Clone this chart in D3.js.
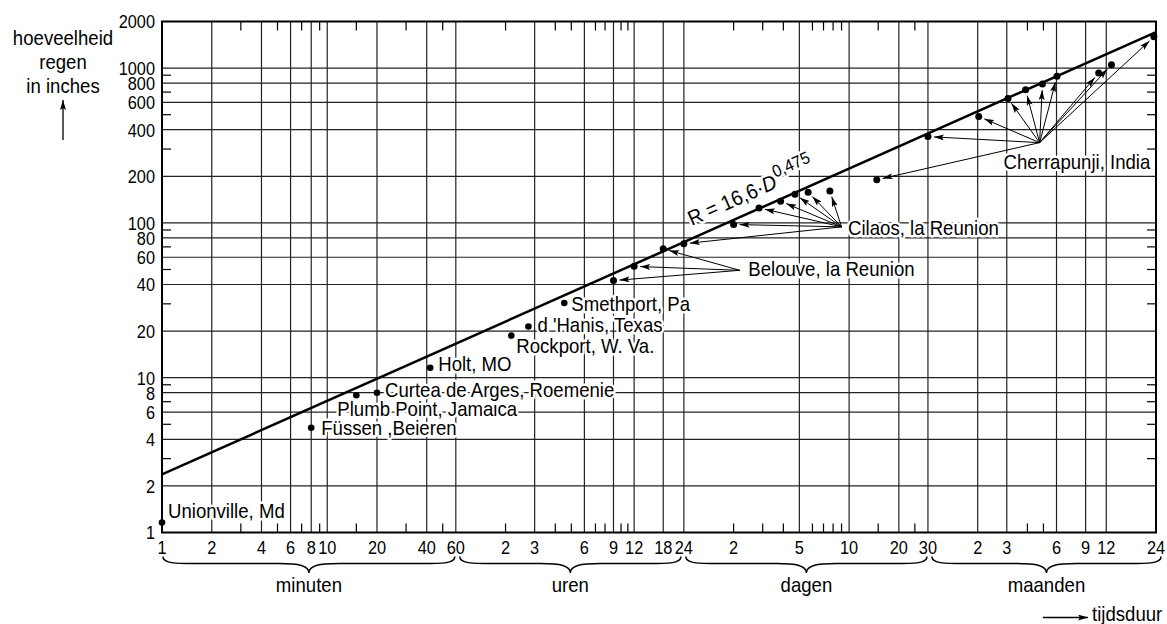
<!DOCTYPE html>
<html lang="nl">
<head>
<meta charset="UTF-8">
<title>Hoeveelheid regen tegen tijdsduur</title>
<style>
  body { margin: 0; background: #fff; }
  svg { display: block; font-family: "Liberation Sans", Arial, sans-serif; font-size: 20px; }
  .tick { font-size: 19px; }
  .halo { paint-order: stroke; stroke: #fff; stroke-width: 5px; stroke-linejoin: round; }
</style>
<script src="https://cdn.jsdelivr.net/npm/d3@7"></script>
</head>
<body>
<div id="chart"></div>
<script>
// duration units in minutes
const MIN = 1, HOUR = 60, DAY = 1440, MONTH = 43200;

// y axis (inches)
const yLabels = [1, 2, 4, 6, 8, 10, 20, 40, 60, 80, 100, 200, 400, 600, 800, 1000, 2000];
const yMinor = [3, 5, 7, 9, 30, 50, 70, 90, 300, 500, 700, 900];

// x axis, per unit
const minuteLabels = [1, 2, 4, 6, 8, 10, 20, 40, 60];
const minuteGrid = [2, 4, 6, 8, 10, 20, 40, 60];
const minuteMinor = [3, 5, 7, 9, 15, 30, 50];
const hourLabels = [2, 3, 6, 9, 12, 18, 24];
const hourGrid = [3, 6, 9, 12, 18, 24];
const hourMinor = [2, 4, 5, 7, 8, 10, 11];
const dayLabels = [2, 5, 10, 20, 30];
const dayGrid = [5, 10, 20, 30];
const dayMinor = [2, 3, 4, 6, 7, 8, 9, 15, 25];
const monthLabels = [2, 3, 6, 9, 12, 24];
const monthGrid = [2, 3, 6, 9, 12];
const monthMinor = [4, 5];
const unitNames = ["minuten", "uren", "dagen", "maanden"];

// single records
const stationNames = ["Unionville, Md", "Füssen ,Beieren", "Plumb Point, Jamaica", "Curtea de Arges, Roemenie",
  "Holt, MO", "Rockport, W. Va.", "d 'Hanis, Texas", "Smethport, Pa"];
const stationMinutes = [1, 8, 15, 20, 42, 130, 165, 272];
const stationInches = [1.16, 4.75, 7.7, 8.0, 11.6, 18.7, 21.4, 30.4];

// grouped records
const belouveHours = [9, 12, 18];
const belouveInches = [42.4, 52.4, 68];
const cilaosDays = [1, 2, 2.85, 3.85, 4.7, 5.65, 7.65];
const cilaosInches = [73.3, 97.7, 125, 138, 153, 158, 160.5];
const cherraMonths = [0.49, 1, 2.03, 3.05, 3.9, 4.93, 6.04, 10.8, 12.9, 23.3];
const cherraInches = [190, 361, 487, 637, 724, 789, 885, 929, 1052, 1592];

// envelope R = 16,6 * D^0,475 (D in hours)
const envA = 16.6, envB = 0.475;

const width = 1167, height = 624;
const x = d3.scaleLog().domain([1, 24 * MONTH]).range([162, 1156]);
const y = d3.scaleLog().domain([1, 2000]).range([532.5, 21.5]);

// no condensed face installed, so squeeze glyphs horizontally
const TICK_SX = 0.86, LABEL_SX = 0.93;
function put(sel, px, py, sx) {
  return sel.attr("transform", `translate(${px},${py}) scale(${sx},1)`);
}

const svg = d3.select("#chart").append("svg")
    .attr("width", width)
    .attr("height", height);

svg.append("defs").append("marker")
    .attr("id", "ah")
    .attr("viewBox", "0 0 10 6")
    .attr("refX", 10).attr("refY", 3)
    .attr("markerWidth", 10).attr("markerHeight", 6)
    .attr("markerUnits", "userSpaceOnUse")
    .attr("orient", "auto")
  .append("path")
    .attr("d", "M0,0L10,3L0,6L2,3Z");

const [x0, x1] = x.range();
const [y0, y1] = y.range();

// grid
const vGrid = [].concat(
  minuteGrid.map(d => d * MIN), hourGrid.map(d => d * HOUR),
  dayGrid.map(d => d * DAY), monthGrid.map(d => d * MONTH));
const vMinor = [].concat(
  minuteMinor.map(d => d * MIN), hourMinor.map(d => d * HOUR),
  dayMinor.map(d => d * DAY), monthMinor.map(d => d * MONTH));

const grid = svg.append("g").attr("stroke", "#222").attr("stroke-width", 1.2);
grid.selectAll(".v").data(vGrid).join("line")
    .attr("x1", d => x(d)).attr("x2", d => x(d))
    .attr("y1", y1).attr("y2", y0);
grid.selectAll(".h").data(yLabels.filter(d => d > 1 && d < 2000)).join("line")
    .attr("x1", x0).attr("x2", x1)
    .attr("y1", d => y(d)).attr("y2", d => y(d));

const ticks = svg.append("g").attr("stroke", "#000").attr("stroke-width", 1.2);
const tl = 9;
ticks.selectAll(".b").data(vMinor).join("line")
    .attr("x1", d => x(d)).attr("x2", d => x(d)).attr("y1", y0).attr("y2", y0 - tl);
ticks.selectAll(".t").data(vMinor).join("line")
    .attr("x1", d => x(d)).attr("x2", d => x(d)).attr("y1", y1).attr("y2", y1 + tl);
ticks.selectAll(".l").data(yMinor).join("line")
    .attr("x1", x0).attr("x2", x0 + tl).attr("y1", d => y(d)).attr("y2", d => y(d));
ticks.selectAll(".r").data(yMinor).join("line")
    .attr("x1", x1).attr("x2", x1 - tl).attr("y1", d => y(d)).attr("y2", d => y(d));

// station labels (layout offsets from the dot)
const labelOffsets = [[6, -5], [10, 7], [-19, 21], [8, 4], [8, 3.5], [5, 17], [9, 5], [7, 8.5]];
const labels = svg.append("g").attr("class", "halo");
stationNames.forEach((name, i) => {
  put(labels.append("text"),
      x(stationMinutes[i]) + labelOffsets[i][0],
      y(stationInches[i]) + labelOffsets[i][1], LABEL_SX)
    .text(name);
});

// grouped annotations: anchor in data coordinates, label offset in px
const groups = [
  { name: "Belouve, la Reunion", minutes: belouveHours.map(d => d * HOUR), inches: belouveInches,
    anchor: [2.18 * DAY, 49.4], off: [8.5, 6] },
  { name: "Cilaos, la Reunion", minutes: cilaosDays.map(d => d * DAY), inches: cilaosInches,
    anchor: [9 * DAY, 94.3], off: [6.5, 7.7] },
  { name: "Cherrapunji, India", minutes: cherraMonths.map(d => d * MONTH), inches: cherraInches,
    anchor: [4.74 * MONTH, 330], off: [-36, 26] }
];

groups.forEach(g => {
  const ax = x(g.anchor[0]), ay = y(g.anchor[1]);
  put(labels.append("text"), ax + g.off[0], ay + g.off[1], LABEL_SX).text(g.name);
});

// envelope equation along the line
const envY = m => envA * Math.pow(m / HOUR, envB);
const eqM = 27.5 * HOUR;
const ex = x(eqM), ey = y(envY(eqM));
const ang = Math.atan2(y(envY(eqM * 10)) - ey, x(eqM * 10) - ex) * 180 / Math.PI;
const eq = labels.append("text")
    .attr("transform", `translate(${ex},${ey}) rotate(${ang}) translate(3,-11.6) scale(${LABEL_SX},1)`)
    .style("font-size", "21px");
eq.append("tspan").text("R = 16,6\u00b7");
eq.append("tspan").attr("font-style", "italic").text("D");
eq.append("tspan").style("font-size", "17px").attr("dx", 1).attr("dy", -10).text("0,475");

// frame
svg.append("rect")
    .attr("x", x0).attr("y", y1)
    .attr("width", x1 - x0).attr("height", y0 - y1)
    .attr("fill", "none").attr("stroke", "#000").attr("stroke-width", 2);

// envelope line
svg.append("line")
    .attr("x1", x(1)).attr("y1", y(envY(1)))
    .attr("x2", x(24 * MONTH)).attr("y2", y(envY(24 * MONTH)))
    .attr("stroke", "#000").attr("stroke-width", 2.5);

// arrows and dots
const arrows = svg.append("g").attr("stroke", "#000").attr("stroke-width", 1);
groups.forEach(g => {
  const ax = x(g.anchor[0]), ay = y(g.anchor[1]);
  g.minutes.forEach((m, i) => {
    const px = x(m), py = y(g.inches[i]);
    const dx = px - ax, dy = py - ay, len = Math.hypot(dx, dy);
    arrows.append("line")
        .attr("x1", ax).attr("y1", ay)
        .attr("x2", px - dx / len * 6).attr("y2", py - dy / len * 6)
        .attr("marker-end", "url(#ah)");
  });
});

const dots = svg.append("g").attr("fill", "#000");
stationMinutes.forEach((m, i) => {
  dots.append("circle").attr("cx", x(m)).attr("cy", y(stationInches[i])).attr("r", 3.3);
});
groups.forEach(g => {
  g.minutes.forEach((m, i) => {
    dots.append("circle").attr("cx", x(m)).attr("cy", y(g.inches[i])).attr("r", 3.5);
  });
});

// y tick labels
svg.append("g").attr("class", "tick").attr("text-anchor", "end")
  .selectAll("text").data(yLabels).join("text")
    .attr("transform", d => `translate(${x0 - 7},${y(d)}) scale(${TICK_SX},1)`)
    .attr("dy", "0.36em")
    .text(d => d);

// x tick labels
const xTicks = [].concat(
  minuteLabels.map(d => [d * MIN, d]), hourLabels.map(d => [d * HOUR, d]),
  dayLabels.map(d => [d * DAY, d]), monthLabels.map(d => [d * MONTH, d]));
svg.append("g").attr("class", "tick").attr("text-anchor", "middle")
  .selectAll("text").data(xTicks).join("text")
    .attr("transform", d => `translate(${x(d[0])},${y0 + 21}) scale(${TICK_SX},1)`)
    .text(d => d[1]);

// braces under each unit
const spans = [[1 * MIN, 60 * MIN], [1 * HOUR, 24 * HOUR], [1 * DAY, 30 * DAY], [1 * MONTH, 24 * MONTH]];
const pads = [[1, -1], [4, -3], [2, -1], [4, 5]];
function brace(a, b) {
  const m = (a + b) / 2, t = 556.5, h = 563.5, tip = 573;
  return `M${a},${t}C${a},${h - 2} ${a + 6},${h} ${a + 24},${h}` +
    `L${m - 30},${h}C${m - 10},${h} ${m},${h + 2} ${m},${tip}` +
    `C${m},${h + 2} ${m + 10},${h} ${m + 30},${h}` +
    `L${b - 24},${h}C${b - 6},${h} ${b},${h - 2} ${b},${t}`;
}
const braces = svg.append("g");
spans.forEach((s, i) => {
  const a = x(s[0]) + pads[i][0], b = x(s[1]) + pads[i][1];
  braces.append("path").attr("d", brace(a, b))
      .attr("fill", "none").attr("stroke", "#000").attr("stroke-width", 1.5);
  put(braces.append("text"), (a + b) / 2, 592, LABEL_SX)
      .attr("text-anchor", "middle").text(unitNames[i]);
});

// axis titles
const yt = svg.append("g").attr("text-anchor", "middle");
[["hoeveelheid", 45], ["regen", 68.5], ["in inches", 92.5]].forEach(([t, yy]) => {
  put(yt.append("text"), 63, yy, LABEL_SX).text(t);
});
svg.append("line").attr("x1", 63).attr("x2", 63).attr("y1", 140).attr("y2", 100)
    .attr("stroke", "#000").attr("stroke-width", 1.3).attr("marker-end", "url(#ah)");
svg.append("line").attr("x1", 1043).attr("x2", 1088).attr("y1", 617.5).attr("y2", 617.5)
    .attr("stroke", "#000").attr("stroke-width", 1.3).attr("marker-end", "url(#ah)");
put(svg.append("text"), 1092, 621, LABEL_SX).text("tijdsduur");
</script>
</body>
</html>
